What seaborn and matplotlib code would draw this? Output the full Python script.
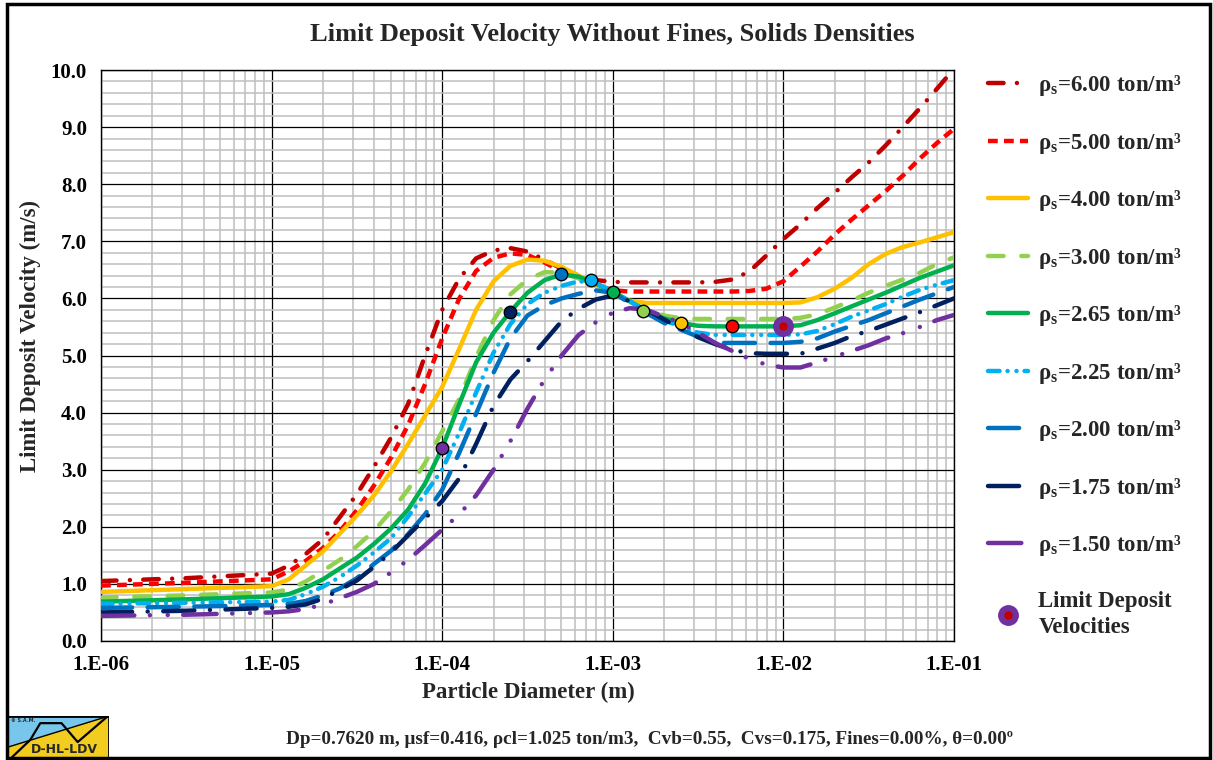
import numpy as np
import pandas as pd
import seaborn as sns
import matplotlib.pyplot as plt
from matplotlib.lines import Line2D
from matplotlib.patches import Rectangle, Polygon
from matplotlib.legend_handler import HandlerTuple
from matplotlib.ticker import LogLocator, MultipleLocator, NullFormatter

# particle diameters (m)
diameter = [1.0e-6, 3.16e-6, 1.0e-5, 1.26e-5, 1.58e-5, 2.0e-5, 2.51e-5, 3.16e-5, 3.98e-5, 5.01e-5, 6.31e-5, 7.94e-5,
            1.0e-4, 1.26e-4, 1.58e-4, 2.0e-4, 2.51e-4, 3.16e-4, 3.98e-4, 5.01e-4, 6.31e-4, 7.94e-4,
            1.0e-3, 1.26e-3, 1.58e-3, 2.0e-3, 2.51e-3, 3.16e-3, 3.98e-3, 5.01e-3, 6.31e-3, 7.94e-3,
            1.0e-2, 1.26e-2, 1.58e-2, 2.0e-2, 2.51e-2, 3.16e-2, 3.98e-2, 5.01e-2, 6.31e-2, 7.94e-2, 1.0e-1]

# limit deposit velocity (m/s) per solids density
v_600 = [1.05, 1.10, 1.18, 1.32, 1.52, 1.78, 2.17, 2.57, 3.05, 3.56, 4.15, 5.00,
         5.80, 6.35, 6.70, 6.84, 6.88, 6.82, 6.68, 6.52, 6.40, 6.32,
         6.29, 6.28, 6.28, 6.28, 6.28, 6.28, 6.29, 6.33, 6.47, 6.75,
         7.04, 7.30, 7.58, 7.85, 8.12, 8.38, 8.68, 9.00, 9.33, 9.67, 10.02]
v_500 = [0.97, 1.02, 1.08, 1.22, 1.40, 1.63, 1.92, 2.29, 2.72, 3.21, 3.78, 4.50,
         5.30, 6.00, 6.48, 6.71, 6.79, 6.76, 6.63, 6.47, 6.36, 6.24,
         6.14, 6.12, 6.12, 6.12, 6.12, 6.12, 6.12, 6.12, 6.13, 6.17,
         6.30, 6.56, 6.82, 7.12, 7.38, 7.63, 7.88, 8.15, 8.45, 8.72, 8.97]
v_400 = [0.86, 0.91, 0.96, 1.08, 1.32, 1.57, 1.88, 2.20, 2.55, 2.97, 3.45, 3.95,
         4.45, 5.12, 5.80, 6.30, 6.57, 6.68, 6.66, 6.55, 6.40, 6.24,
         6.06, 5.96, 5.92, 5.92, 5.92, 5.92, 5.92, 5.92, 5.92, 5.92,
         5.92, 5.93, 6.02, 6.17, 6.36, 6.60, 6.78, 6.90, 6.98, 7.07, 7.16]
v_300 = [0.76, 0.80, 0.85, 0.90, 1.04, 1.23, 1.42, 1.66, 1.93, 2.27, 2.65, 3.12,
         3.67, 4.24, 4.97, 5.62, 6.07, 6.33, 6.46, 6.45, 6.35, 6.22,
         6.08, 5.94, 5.80, 5.70, 5.65, 5.64, 5.64, 5.64, 5.64, 5.64,
         5.64, 5.66, 5.72, 5.84, 5.96, 6.10, 6.22, 6.33, 6.45, 6.60, 6.72]
v_265 = [0.69, 0.73, 0.78, 0.82, 0.93, 1.08, 1.27, 1.46, 1.70, 1.97, 2.30, 2.76,
         3.38, 4.15, 4.88, 5.40, 5.77, 6.10, 6.32, 6.42, 6.38, 6.26,
         6.12, 5.95, 5.77, 5.65, 5.57, 5.52, 5.51, 5.51, 5.51, 5.51,
         5.51, 5.53, 5.62, 5.74, 5.86, 5.98, 6.10, 6.23, 6.36, 6.47, 6.58]
v_225 = [0.65, 0.67, 0.69, 0.72, 0.82, 0.95, 1.12, 1.32, 1.55, 1.80, 2.18, 2.58,
         3.00, 3.65, 4.35, 5.05, 5.55, 5.90, 6.10, 6.22, 6.30, 6.27,
         6.12, 5.95, 5.77, 5.62, 5.50, 5.40, 5.36, 5.36, 5.36, 5.36,
         5.36, 5.37, 5.43, 5.55, 5.68, 5.79, 5.90, 6.03, 6.15, 6.24, 6.32]
v_200 = [0.58, 0.60, 0.63, 0.65, 0.70, 0.80, 0.92, 1.10, 1.35, 1.58, 1.87, 2.22,
         2.65, 3.30, 3.98, 4.70, 5.30, 5.70, 5.88, 6.00, 6.08, 6.14,
         6.10, 5.92, 5.74, 5.57, 5.45, 5.33, 5.22, 5.22, 5.22, 5.22,
         5.22, 5.24, 5.30, 5.42, 5.52, 5.62, 5.74, 5.86, 5.98, 6.09, 6.20]
v_175 = [0.50, 0.53, 0.58, 0.60, 0.64, 0.74, 0.90, 1.06, 1.30, 1.55, 1.85, 2.15,
         2.45, 2.85, 3.45, 4.12, 4.58, 4.90, 5.25, 5.60, 5.82, 5.98,
         6.05, 5.95, 5.80, 5.63, 5.47, 5.32, 5.20, 5.10, 5.04, 5.03,
         5.03, 5.03, 5.12, 5.22, 5.34, 5.43, 5.54, 5.65, 5.76, 5.88, 6.00]
v_150 = [0.44, 0.46, 0.50, 0.52, 0.56, 0.64, 0.75, 0.86, 1.00, 1.20, 1.42, 1.68,
         1.95, 2.22, 2.55, 3.00, 3.50, 4.07, 4.58, 5.00, 5.36, 5.58,
         5.75, 5.83, 5.80, 5.68, 5.57, 5.40, 5.22, 5.08, 4.94, 4.84,
         4.79, 4.79, 4.88, 4.98, 5.08, 5.18, 5.30, 5.39, 5.50, 5.62, 5.71]

densities = ['6.00', '5.00', '4.00', '3.00', '2.65', '2.25', '2.00', '1.75', '1.50']
series = [v_600, v_500, v_400, v_300, v_265, v_225, v_200, v_175, v_150]
colors = ['#C00000', '#FF0000', '#FFC000', '#92D050', '#00B050', '#00B0F0', '#0070C0', '#002060', '#7030A0']
# dash patterns (units of line width), None = solid
dashes = [(3.5, 3, 0.01, 3), (2.2, 1.4), None, (3.5, 4), None,
          (2.6, 1.8, 0.01, 2, 0.01, 1.8), (7, 3.5), (7, 3.5, 0.01, 3.5), (7.5, 3.5, 0.01, 4, 0.01, 3.5)]
caps = ['round', 'butt', 'round', 'round', 'round', 'round', 'round', 'round', 'round']

# limit deposit velocity points
ldv_d = [1e-4, 2.5e-4, 5e-4, 7.5e-4, 1e-3, 1.5e-3, 2.5e-3, 5e-3, 1e-2]
ldv_v = [3.38, 5.77, 6.42, 6.32, 6.12, 5.78, 5.57, 5.52, 5.52]
ldv_c = ['#7030A0', '#002060', '#0070C0', '#00B0F0', '#00B050', '#92D050', '#FFC000', '#FF0000', '#7030A0']

x_ticks = [1e-6, 1e-5, 1e-4, 1e-3, 1e-2, 1e-1]
x_labels = ['1.E-06', '1.E-05', '1.E-04', '1.E-03', '1.E-02', '1.E-01']
y_ticks = [0, 1, 2, 3, 4, 5, 6, 7, 8, 9, 10]
y_labels = ['0.0', '1.0', '2.0', '3.0', '4.0', '5.0', '6.0', '7.0', '8.0', '9.0', '10.0']

sns.set_style('white')
plt.rcParams['font.family'] = ['Liberation Serif', 'DejaVu Serif']
plt.rcParams['font.weight'] = 'bold'
plt.rcParams['mathtext.fontset'] = 'custom'
plt.rcParams['mathtext.rm'] = 'Liberation Serif:bold'
plt.rcParams['mathtext.it'] = 'Liberation Serif:italic:bold'
plt.rcParams['mathtext.bf'] = 'Liberation Serif:bold'

df = pd.concat([pd.DataFrame({'d': diameter, 'v': s, 'rho': r}) for r, s in zip(densities, series)])

W, H = 1213, 760
fig = plt.figure(figsize=(W / 100, H / 100), dpi=100)
ax = fig.add_axes([101 / W, 119 / H, 853 / W, 571 / H])
ax.set_xscale('log')

lw = 3.2
for r, c, ds, cap in zip(densities, colors, dashes, caps):
    sub = df[df['rho'] == r]
    ls = '-' if ds is None else (0, ds)
    sns.lineplot(data=sub, x='d', y='v', ax=ax, color=c, lw=lw, linestyle=ls,
                 dash_capstyle=cap, solid_capstyle='round', legend=False, sort=False, zorder=3)

for d, v, c in zip(ldv_d[:-1], ldv_v[:-1], ldv_c[:-1]):
    ax.plot(d, v, 'o', ms=9, mfc=c, mec='black', mew=1.0, zorder=5)
ax.plot(ldv_d[-1], ldv_v[-1], 'o', ms=14, mfc=ldv_c[-1], mec=ldv_c[-1], zorder=5)
ax.plot(ldv_d[-1], ldv_v[-1], 'o', ms=5, mfc='#C00000', mec='#C00000', zorder=6)

ax.set_xlim(1e-6, 1e-1)
ax.set_ylim(0, 10)
ax.set_xticks(x_ticks)
ax.set_xticklabels(x_labels)
ax.set_yticks(y_ticks)
ax.set_yticklabels(y_labels)
ax.xaxis.set_minor_locator(LogLocator(base=10, subs=np.arange(2, 10)))
ax.xaxis.set_minor_formatter(NullFormatter())
ax.yaxis.set_minor_locator(MultipleLocator(0.2))
ax.grid(which='minor', color='#BFBFBF', lw=1.1)
ax.grid(which='major', color='black', lw=0.9)
ax.set_axisbelow(True)
ax.tick_params(which='major', direction='out', length=5, width=1, labelsize=15, pad=5, colors='black')
ax.tick_params(which='minor', length=0)
for sp in ax.spines.values():
    sp.set_color('black')
    sp.set_linewidth(1)
ax.set_xlabel('')
ax.set_ylabel('')

fig.text(612 / W, 1 - 35 / H, 'Limit Deposit Velocity Without Fines, Solids Densities',
         ha='center', va='center', fontsize=19, weight='bold')
fig.text(528 / W, 1 - 692 / H, 'Particle Diameter (m)', ha='center', va='center', fontsize=16.5, weight='bold')
fig.text(30 / W, 1 - 336 / H, 'Limit Deposit Velocity (m/s)', ha='center', va='center',
         rotation=90, fontsize=16.5, weight='bold')
fig.text(649 / W, 1 - 740 / H,
         'Dp=0.7620 m, μsf=0.416, ρcl=1.025 ton/m3,  Cvb=0.55,  Cvs=0.175, Fines=0.00%, θ=0.00º',
         ha='center', va='center', fontsize=13.8, weight='bold')

# legend
handles, labels = [], []
for r, c, ds, cap in zip(densities, colors, dashes, caps):
    ls = '-' if ds is None else (0, ds)
    handles.append(Line2D([], [], color=c, lw=lw, linestyle=ls, dash_capstyle=cap, solid_capstyle='round'))
    labels.append('ρ$_\\mathrm{s}$=' + r + ' ton/m³')
h1 = Line2D([], [], ls='none', marker='o', ms=14, mfc='#7030A0', mec='#7030A0')
h2 = Line2D([], [], ls='none', marker='o', ms=5, mfc='#C00000', mec='#C00000')
handles.append((h1, h2))
labels.append('Limit Deposit\nVelocities')
leg = fig.legend(handles, labels, loc='upper left', bbox_to_anchor=(988 / W, 1 - 73 / H), frameon=False,
                 fontsize=16.5, handlelength=1.75, handletextpad=0.45, labelspacing=1.42,
                 borderpad=0, borderaxespad=0, handler_map={tuple: HandlerTuple(ndivide=1)})
leg.get_texts()[-1].set_linespacing(1.35)

# figure frame
fig.add_artist(Rectangle((7 / W, 2 / H), 1203 / W, 754 / H, transform=fig.transFigure,
                         fill=False, ec='black', lw=2.5))

# logo
lg = fig.add_axes([8 / W, 2 / H, 101 / W, 42 / H])
lg.set_xlim(0, 1)
lg.set_ylim(0, 1)
lg.axis('off')
lg.add_patch(Polygon([[0, 0.26], [1, 1], [0, 1]], closed=True, fc='#79C6EC', ec='none'))
lg.add_patch(Polygon([[0, 0], [1, 0], [1, 1], [0, 0.26]], closed=True, fc='#F2CC1E', ec='none'))
lg.plot([0, 1], [0.26, 1], color='black', lw=1)
lg.plot([0.04, 0.22, 0.32, 0.53, 0.69, 0.98], [0.02, 0.43, 0.83, 0.83, 0.38, 0.98], color='black', lw=1.6)
lg.plot([0, 1, 1], [1, 1, 0], color='black', lw=2)
lg.text(0.56, 0.2, 'D-HL-LDV', ha='center', va='center', fontsize=9, family='DejaVu Sans', weight='bold')
lg.text(0.03, 0.9, '© S.A.M.', ha='left', va='center', fontsize=3.5, family='DejaVu Sans', weight='bold')

fig.savefig('out.png', dpi=100)
